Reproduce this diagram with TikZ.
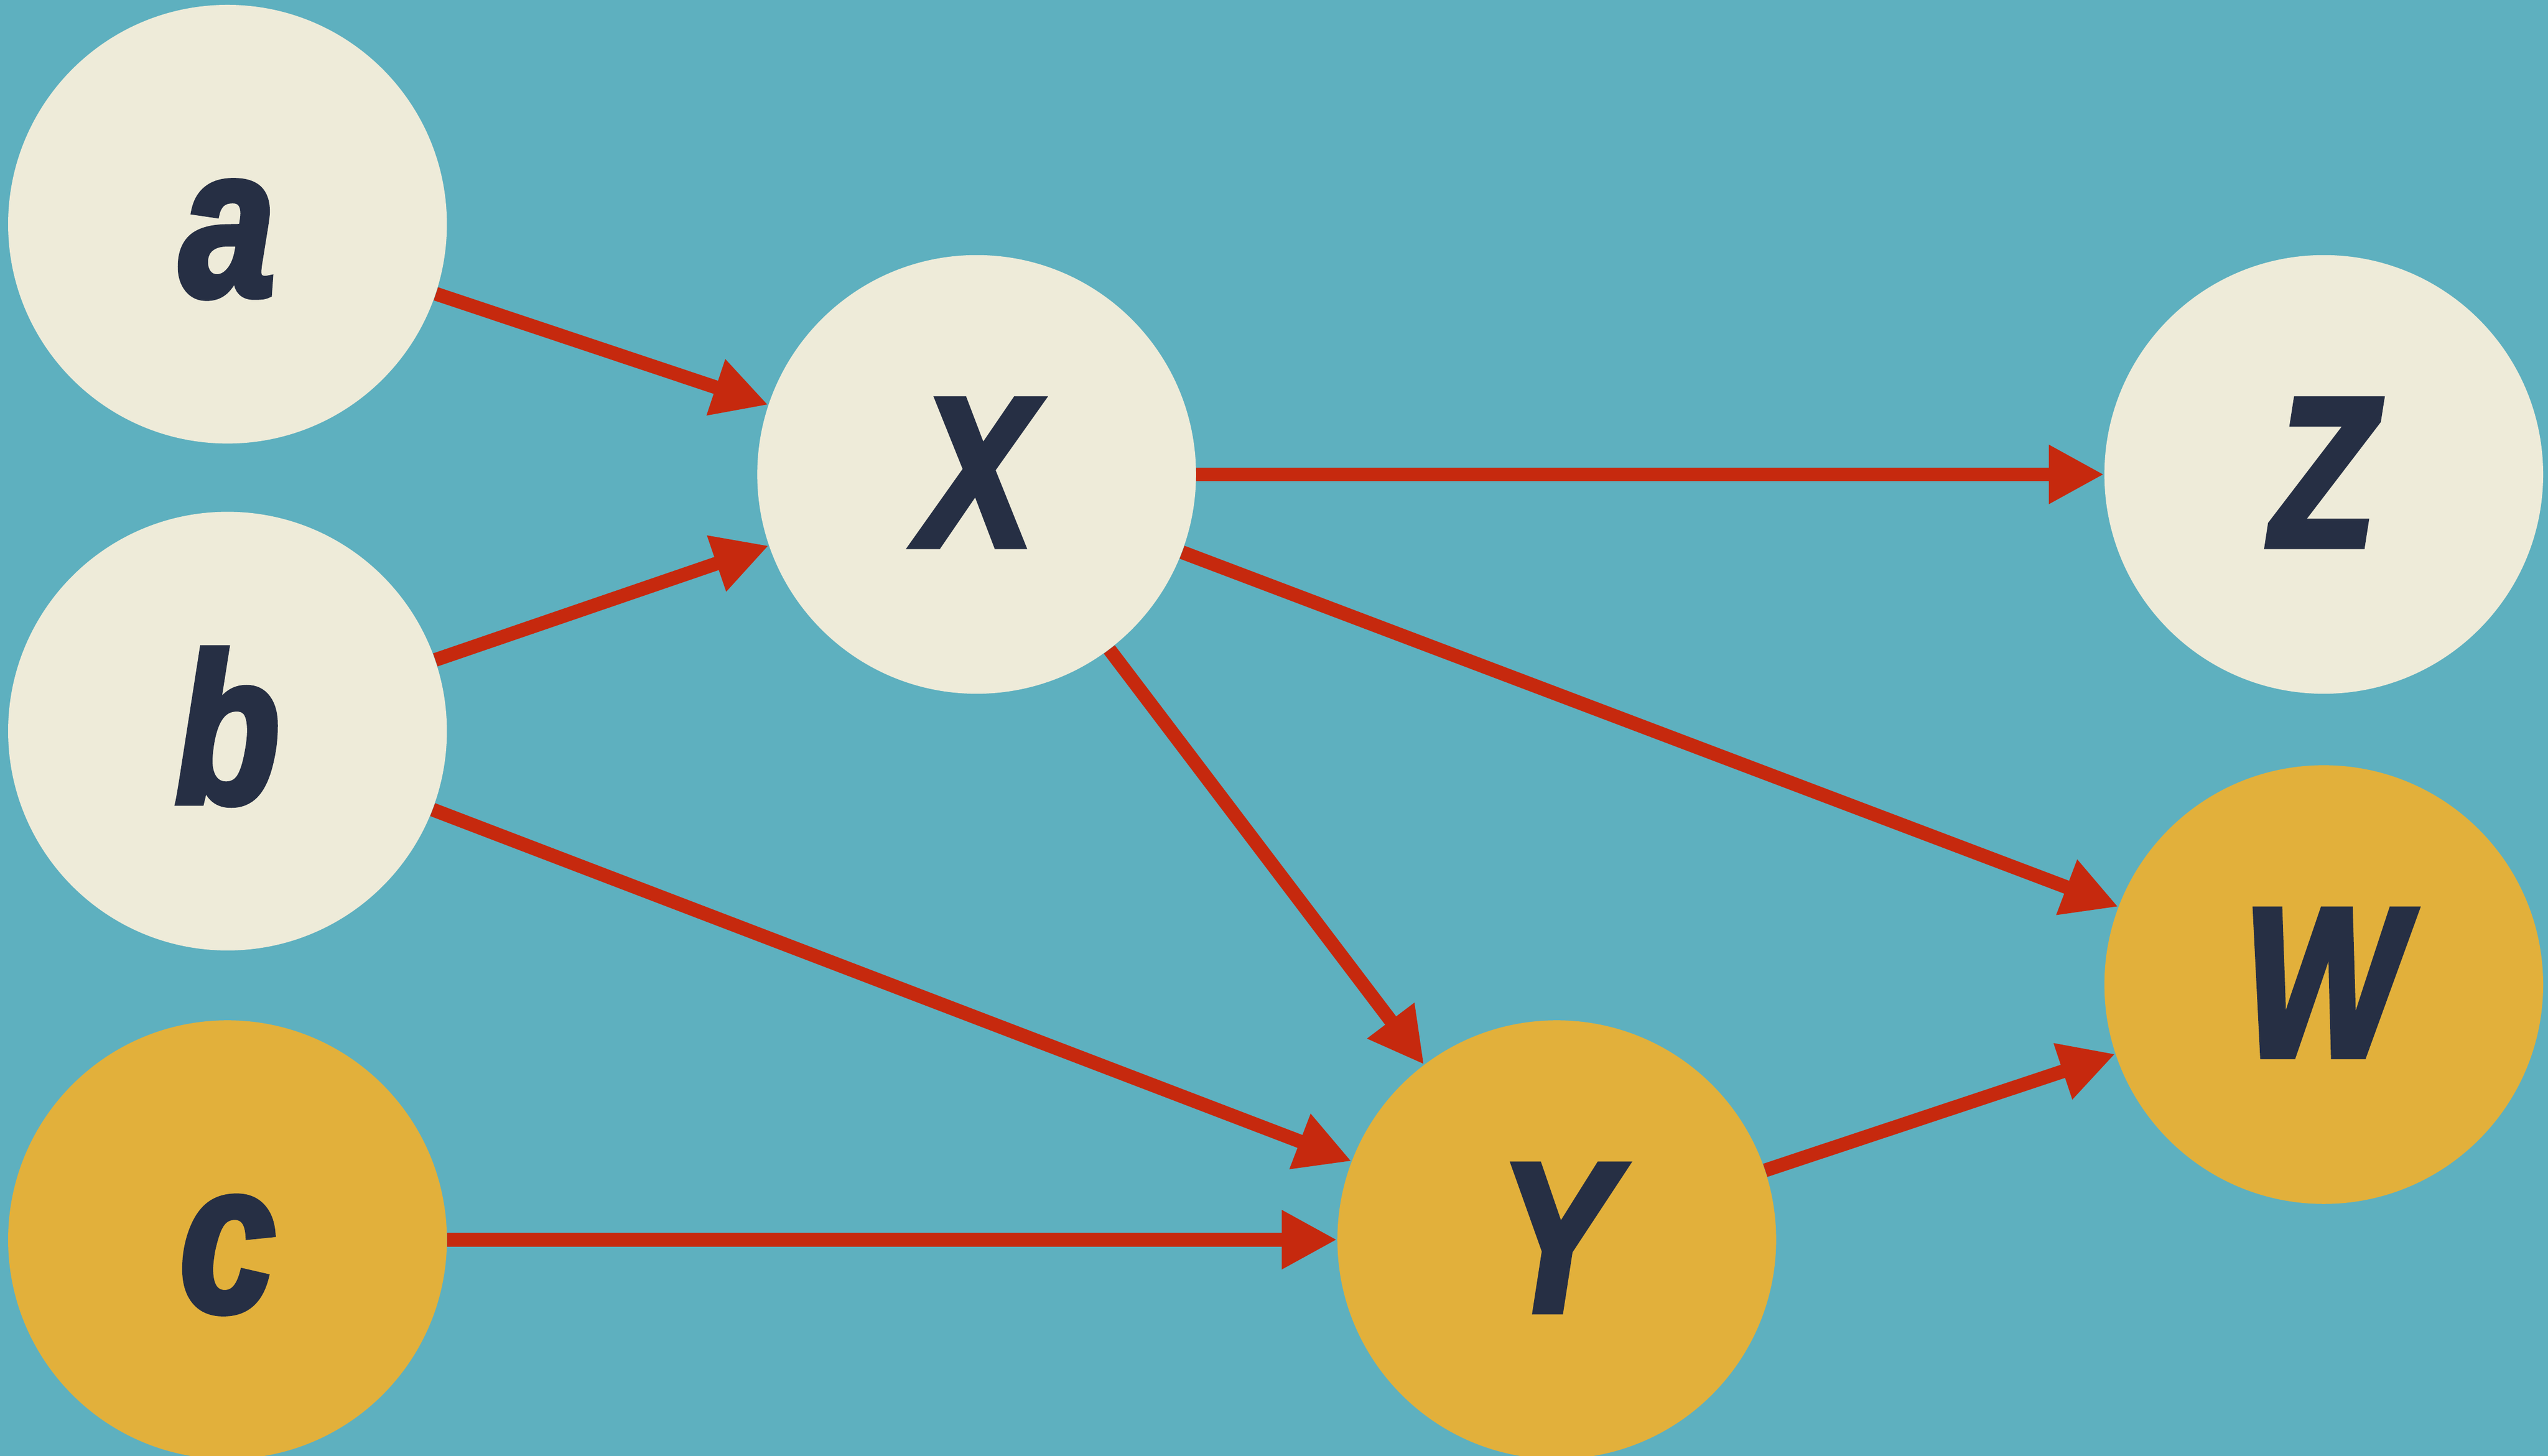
\documentclass[tikz,border=0pt]{standalone}
\usepackage{fontspec}
\usetikzlibrary{arrows.meta}
\newfontfamily\lab{Liberation Sans}[UprightFont=* Bold Italic, FakeStretch=0.8, FakeBold=3]
\definecolor{bg}{HTML}{5EB0BF}
\definecolor{cream}{HTML}{EEEBD9}
\definecolor{gold}{HTML}{E2B03B}
\definecolor{navy}{HTML}{262F44}
\definecolor{arrowred}{HTML}{C6290E}
\tikzset{
  vnode/.style={circle, minimum size=270pt, inner sep=0pt, text=navy,
    font=\lab\fontsize{131}{131}\selectfont, text height=88pt, text depth=0pt},
  light/.style={vnode, fill=cream},
  dark/.style={vnode, fill=gold},
  link/.style={draw=arrowred, line width=8.5pt,
    -{Triangle[length=34pt,width=34pt]}}
}
\begin{document}
\begin{tikzpicture}[x=1pt,y=1pt]
\useasboundingbox (0,0) rectangle (1568,896);
\fill[bg] (0,0) rectangle (1568,896);
\clip (0,0) rectangle (1568,896);
\node[light] (a) at (140,758) {a};
\node[light] (b) at (140,446) {b};
\node[dark]  (c) at (140,133) {c};
\node[light] (X) at (601,604) {X};
\node[dark]  (Y) at (958,133) {Y};
\node[light] (Z) at (1430,604) {Z};
\node[dark]  (W) at (1430,290) {W};
\draw[link] (a) -- (X);
\draw[link] (b) -- (X);
\draw[link] (b) -- (Y);
\draw[link] (c) -- (Y);
\draw[link] (X) -- (Z);
\draw[link] (X) -- (W);
\draw[link] (X) -- (Y);
\draw[link] (Y) -- (W);
\end{tikzpicture}
\end{document}
